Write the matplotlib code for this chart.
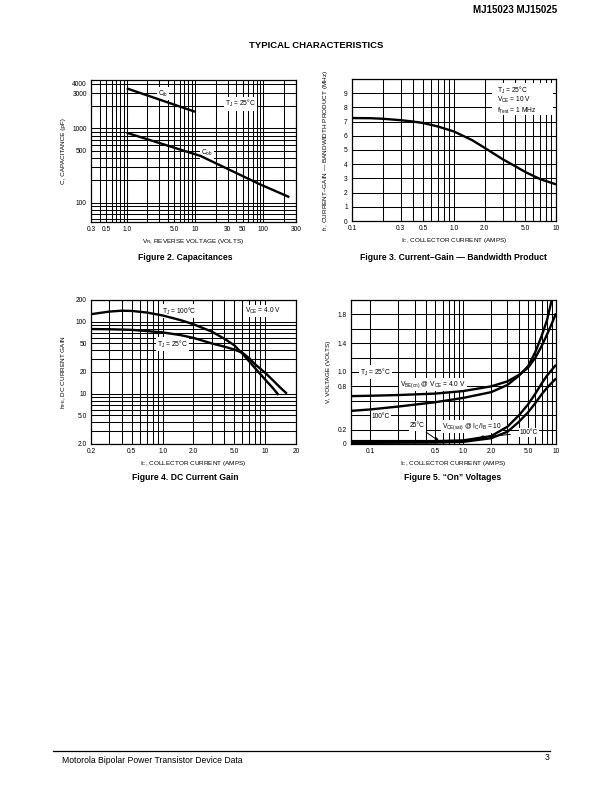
import matplotlib
matplotlib.use("Agg")
import matplotlib.pyplot as plt
from matplotlib.ticker import FixedLocator, NullFormatter
from matplotlib.patches import Rectangle

plt.rcParams['font.family'] = ['Liberation Sans', 'DejaVu Sans']
plt.rcParams['mathtext.fontset'] = 'custom'
plt.rcParams['mathtext.rm'] = 'Liberation Sans'
plt.rcParams['mathtext.it'] = 'Liberation Sans:italic'
plt.rcParams['mathtext.bf'] = 'Liberation Sans:bold'

# ---------------- data ----------------
# Figure 2: Capacitances
cib_v = [1.0, 10.0]
cib_c = [3470, 1680]
cob_v = [1.0, 12.0, 89.0, 240.0]
cob_c = [875, 427, 177, 119]
fig2_xticks = [0.3, 0.5, 1.0, 5.0, 10, 30, 50, 100, 300]
fig2_xlabels = ['0.3', '0.5', '1.0', '5.0', '10', '30', '50', '100', '300']
fig2_yticks = [100, 500, 1000, 3000, 4000]
fig2_ylabels = ['100', '500', '1000', '3000', '4000']

# Figure 3: Current-gain bandwidth product
ft_ic = [0.1, 0.15, 0.2, 0.3, 0.4, 0.5, 0.7, 1.0, 1.5, 2.0, 3.0, 4.0, 5.0, 7.0, 10.0]
ft_mhz = [7.25, 7.24, 7.2, 7.1, 7.0, 6.9, 6.65, 6.3, 5.7, 5.15, 4.35, 3.85, 3.45, 2.95, 2.58]
fig3_xticks = [0.1, 0.3, 0.5, 1.0, 2.0, 5.0, 10]
fig3_xlabels = ['0.1', '0.3', '0.5', '1.0', '2.0', '5.0', '10']
fig3_yticks = [0, 1, 2, 3, 4, 5, 6, 7, 8, 9]

# Figure 4: DC current gain
hfe100_ic = [0.2, 0.3, 0.4, 0.5, 0.7, 1.0, 1.5, 2.0, 3.0, 4.0, 5.0, 6.0, 7.0, 8.0, 10.0, 12.0, 13.5]
hfe100 = [127, 138, 142, 141, 134, 122, 105, 92, 73, 58, 47, 36, 28, 22.5, 15.7, 11.8, 9.6]
hfe25_ic = [0.2, 0.3, 0.5, 0.7, 1.0, 1.5, 2.0, 3.0, 4.0, 5.0, 6.0, 7.0, 8.0, 10.0, 12.0, 14.0, 16.3]
hfe25 = [79, 78.5, 77, 74, 71, 65, 59.5, 50, 45, 41, 37, 31, 25.5, 19.5, 15.2, 12.2, 10]
fig4_xticks = [0.2, 0.5, 1.0, 2.0, 5.0, 10, 20]
fig4_xlabels = ['0.2', '0.5', '1.0', '2.0', '5.0', '10', '20']
fig4_yticks = [2, 5, 10, 20, 50, 100, 200]
fig4_ylabels = ['2.0', '5.0', '10', '20', '50', '100', '200']

# Figure 5: "On" voltages
vbe25_ic = [0.062, 0.1, 0.2, 0.5, 1.0, 2.0, 3.0, 4.0, 5.0, 6.0, 7.0, 8.0, 9.0, 10.0]
vbe25 = [0.665, 0.67, 0.68, 0.70, 0.735, 0.80, 0.87, 0.96, 1.06, 1.20, 1.36, 1.52, 1.67, 1.815]
vbe100_ic = [0.062, 0.1, 0.2, 0.5, 1.0, 2.0, 3.0, 4.0, 5.0, 6.0, 7.0, 8.0, 9.0]
vbe100 = [0.46, 0.48, 0.52, 0.58, 0.64, 0.72, 0.82, 0.95, 1.08, 1.28, 1.50, 1.72, 2.0]
vcesat_a_ic = [0.062, 0.1, 0.5, 1.0, 2.0, 3.0, 4.0, 5.0, 6.0, 7.0, 8.0, 10.0]
vcesat_a = [0.04, 0.04, 0.04, 0.05, 0.11, 0.24, 0.40, 0.55, 0.70, 0.84, 0.95, 1.10]
vcesat_b_ic = [0.062, 0.5, 1.0, 2.0, 3.0, 4.0, 5.0, 6.0, 7.0, 8.0, 9.0, 10.0]
vcesat_b = [0.015, 0.02, 0.03, 0.08, 0.17, 0.31, 0.44, 0.57, 0.69, 0.78, 0.85, 0.91]
fig5_xticks = [0.1, 0.5, 1.0, 2.0, 5.0, 10]
fig5_xlabels = ['0.1', '0.5', '1.0', '2.0', '5.0', '10']
fig5_yticks = [0, 0.2, 0.8, 1.0, 1.4, 1.8]
fig5_ylabels = ['0', '0.2', '0.8', '1.0', '1.4', '1.8']

# ---------------- figure ----------------
W, H = 612, 792
fig = plt.figure(figsize=(W / 100, H / 100), dpi=100)
fig.patch.set_facecolor('white')


def box(l, r, t, b):
    return [l / W, 1 - b / H, (r - l) / W, (b - t) / H]


def logs(lo, hi):
    out = []
    d = 1e-3
    while d < 1e5:
        for m in range(1, 10):
            v = round(m * d, 6)
            if lo * 0.999 <= v <= hi * 1.001:
                out.append(v)
        d *= 10
    return out


TICK_FS = 4.8
LAB_FS = 4.6
CURVE_LW = 1.7
GRID_LW = 0.75
TXT_Z = 2.5
CURVE_Z = 3
WBOX = dict(facecolor='white', edgecolor='none', pad=0.8)


def style(ax, xgrid, ygrid, xt, xl, yt, yl, ylab_x):
    ax.xaxis.set_minor_locator(FixedLocator(xgrid))
    ax.yaxis.set_minor_locator(FixedLocator(ygrid))
    ax.xaxis.set_minor_formatter(NullFormatter())
    ax.yaxis.set_minor_formatter(NullFormatter())
    ax.set_xticks(xt)
    ax.set_xticklabels(xl)
    ax.set_yticks(yt)
    ax.set_yticklabels(yl)
    ax.grid(which='both', color='black', linewidth=GRID_LW)
    ax.tick_params(which='both', length=0, labelsize=TICK_FS, pad=3)
    for s in ax.spines.values():
        s.set_linewidth(0.9)
        s.set_zorder(4)
    ax.set_axisbelow(True)
    ax.yaxis.set_label_coords(ylab_x, 0.5)


def curve(ax, x, y):
    ax.plot(x, y, color='black', lw=CURVE_LW, zorder=CURVE_Z, solid_capstyle='butt')


def label(ax, x, y, s, **kw):
    ax.text(x, y, s, fontsize=4.8, ha='center', va='center', bbox=WBOX, zorder=TXT_Z, **kw)


# Figure 2
ax2 = fig.add_axes(box(91, 296, 80, 222))
ax2.set_xscale('log'); ax2.set_yscale('log')
ax2.set_xlim(0.3, 300); ax2.set_ylim(55, 4500)
curve(ax2, cib_v, cib_c)
curve(ax2, cob_v, cob_c)
style(ax2, logs(0.3, 300), logs(55, 4500), fig2_xticks, fig2_xlabels, fig2_yticks, fig2_ylabels,
      (66.5 - 91) / 205)
label(ax2, 3.4, 2950, r'$\mathrm{C_{ib}}$')
label(ax2, 15, 470, r'$\mathrm{C_{ob}}$')
label(ax2, 46, 2150, r'$\mathrm{T_J}$ = 25°C')
ax2.set_xlabel(r'$\mathrm{V_R}$, REVERSE VOLTAGE (VOLTS)', fontsize=LAB_FS, labelpad=3)
ax2.set_ylabel('C, CAPACITANCE (pF)', fontsize=LAB_FS)

# Figure 3
ax3 = fig.add_axes(box(352, 556, 79, 221))
ax3.set_xscale('log')
ax3.set_xlim(0.1, 10); ax3.set_ylim(0, 10)
curve(ax3, ft_ic, ft_mhz)
style(ax3, logs(0.1, 10), list(range(0, 11)), fig3_xticks, fig3_xlabels, fig3_yticks,
      [str(v) for v in fig3_yticks], (330.5 - 352) / 204)
ax3.add_patch(Rectangle((0.685, 0.745), 0.30, 0.225, transform=ax3.transAxes,
                        facecolor='white', edgecolor='none', zorder=1))
for yy, s in zip([0.922, 0.852, 0.777],
                 [r'$\mathrm{T_J}$ = 25°C', r'$\mathrm{V_{CE}}$ = 10 V', r'$\mathrm{f_{Test}}$ = 1 MHz']):
    ax3.text(0.71, yy, s, transform=ax3.transAxes, fontsize=4.8, ha='left', va='center',
             zorder=TXT_Z)
ax3.set_xlabel(r'$\mathrm{I_C}$, COLLECTOR CURRENT (AMPS)', fontsize=LAB_FS, labelpad=3)
ax3.set_ylabel(r'$\mathrm{f_T}$, CURRENT–GAIN — BANDWIDTH PRODUCT (MHz)', fontsize=LAB_FS)

# Figure 4
ax4 = fig.add_axes(box(91, 296, 300, 444))
ax4.set_xscale('log'); ax4.set_yscale('log')
ax4.set_xlim(0.2, 20); ax4.set_ylim(2, 200)
curve(ax4, hfe100_ic, hfe100)
curve(ax4, hfe25_ic, hfe25)
style(ax4, logs(0.2, 20), logs(2, 200), fig4_xticks, fig4_xlabels, fig4_yticks, fig4_ylabels,
      (67.5 - 91) / 205)
label(ax4, 1.45, 140, r'$\mathrm{T_J}$ = 100°C')
label(ax4, 9.5, 140, r'$\mathrm{V_{CE}}$ = 4.0 V')
label(ax4, 1.25, 49, r'$\mathrm{T_J}$ = 25°C')
ax4.set_xlabel(r'$\mathrm{I_C}$, COLLECTOR CURRENT (AMPS)', fontsize=LAB_FS, labelpad=2.5)
ax4.set_ylabel(r'$\mathrm{h_{FE}}$, DC CURRENT GAIN', fontsize=LAB_FS)

# Figure 5
ax5 = fig.add_axes(box(351, 556, 300, 444))
ax5.set_xscale('log')
ax5.set_xlim(0.062, 10); ax5.set_ylim(0, 2.0)
curve(ax5, vbe25_ic, vbe25)
curve(ax5, vbe100_ic, vbe100)
curve(ax5, vcesat_a_ic, vcesat_a)
curve(ax5, vcesat_b_ic, vcesat_b)
style(ax5, logs(0.1, 10), [round(0.2 * i, 2) for i in range(0, 11)],
      fig5_xticks, fig5_xlabels, fig5_yticks, fig5_ylabels, (331 - 351) / 205)
label(ax5, 0.113, 1.0, r'$\mathrm{T_J}$ = 25°C')
label(ax5, 0.47, 0.82, r'$\mathrm{V_{BE(on)}}$ @ $\mathrm{V_{CE}}$ = 4.0 V')
label(ax5, 0.13, 0.38, '100°C')
label(ax5, 1.25, 0.24, r'$\mathrm{V_{CE(sat)}}$ @ $\mathrm{I_C/I_B}$ = 10')
ax5.annotate('25°C', xy=(0.55, 0.04), xytext=(0.32, 0.25), fontsize=4.8, ha='center',
             va='center', bbox=WBOX, zorder=TXT_Z,
             arrowprops=dict(arrowstyle='-|>', color='black', lw=0.7, mutation_scale=5,
                             shrinkA=2, shrinkB=0))
ax5.annotate('100°C', xy=(1.5, 0.09), xytext=(5.1, 0.16), fontsize=4.8, ha='center',
             va='center', bbox=WBOX, zorder=TXT_Z,
             arrowprops=dict(arrowstyle='-|>', color='black', lw=0.7, mutation_scale=5,
                             shrinkA=6, shrinkB=0))
ax5.set_xlabel(r'$\mathrm{I_C}$, COLLECTOR CURRENT (AMPS)', fontsize=LAB_FS, labelpad=2.5)
ax5.set_ylabel('V, VOLTAGE (VOLTS)', fontsize=LAB_FS)

# Figure captions
for cx, cy, s in [(185, 257, 'Figure 2. Capacitances'),
                  (453, 257, 'Figure 3. Current–Gain — Bandwidth Product'),
                  (185, 477, 'Figure 4. DC Current Gain'),
                  (453, 477, 'Figure 5. “On” Voltages')]:
    fig.text(cx / W, 1 - cy / H, s, fontsize=6.2, fontweight='bold', ha='center', va='center')

# Header / footer
fig.text(557 / W, 1 - 10 / H, 'MJ15023 MJ15025', fontsize=7, fontweight='heavy',
         ha='right', va='center')
fig.text(316 / W, 1 - 45 / H, 'TYPICAL CHARACTERISTICS', fontsize=6.8, fontweight='bold',
         ha='center', va='center')
fig.add_artist(plt.Line2D([53 / W, 550 / W], [1 - 751 / H, 1 - 751 / H],
                          color='black', lw=0.9))
fig.text(62 / W, 1 - 760.5 / H, 'Motorola Bipolar Power Transistor Device Data', fontsize=6.2,
         ha='left', va='center')
fig.text(549 / W, 1 - 758 / H, '3', fontsize=6.2, ha='right', va='center')

fig.savefig('out.png', dpi=100, facecolor='white')
